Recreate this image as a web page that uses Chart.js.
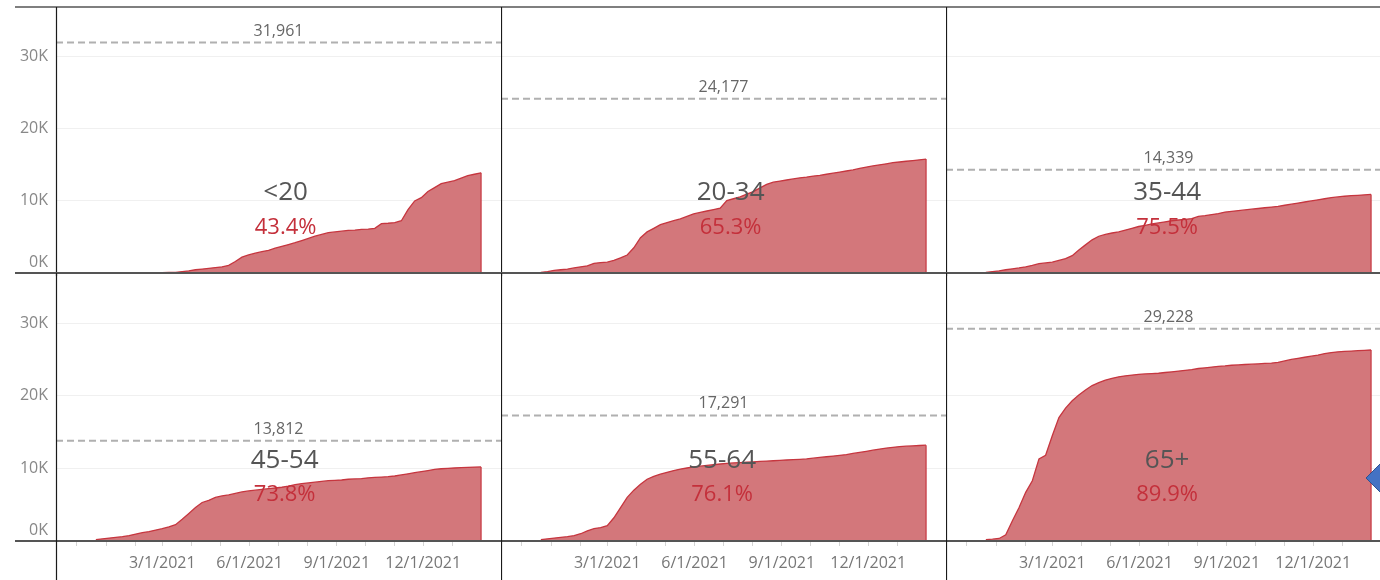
<!DOCTYPE html>
<html lang="en">
<head>
<meta charset="UTF-8">
<title>Doses by age group</title>
<script src="https://cdn.jsdelivr.net/npm/chart.js"></script>
<style>
  html, body { margin: 0; padding: 0; background: #fff; overflow: hidden; }
  #wrap { position: relative; width: 1380px; height: 580px; overflow: hidden; }
  #wrap canvas { position: absolute; }
</style>
</head>
<body>
<div id="wrap">
  <canvas id="c0"></canvas><canvas id="c1"></canvas><canvas id="c2"></canvas>
  <canvas id="c3"></canvas><canvas id="c4"></canvas><canvas id="c5"></canvas>
</div>
<script>
// weekly dates
const weeks = [
  '2020-12-21','2020-12-28','2021-01-04','2021-01-11','2021-01-18','2021-01-25','2021-02-01','2021-02-08','2021-02-15','2021-02-22',
  '2021-03-01','2021-03-08','2021-03-15','2021-03-22','2021-03-29','2021-04-05','2021-04-12','2021-04-19','2021-04-26','2021-05-03',
  '2021-05-10','2021-05-17','2021-05-24','2021-05-31','2021-06-07','2021-06-14','2021-06-21','2021-06-28','2021-07-05','2021-07-12',
  '2021-07-19','2021-07-26','2021-08-02','2021-08-09','2021-08-16','2021-08-23','2021-08-30','2021-09-06','2021-09-13','2021-09-20',
  '2021-09-27','2021-10-04','2021-10-11','2021-10-18','2021-10-25','2021-11-01','2021-11-08','2021-11-15','2021-11-22','2021-11-29',
  '2021-12-06','2021-12-13','2021-12-20','2021-12-27','2022-01-03','2022-01-10','2022-01-17','2022-01-24','2022-01-31'
];

const groups = ['<20', '20-34', '35-44', '45-54', '55-64', '65+'];
const targets = [31961, 24177, 14339, 13812, 17291, 29228];
const pctLabels = ['43.4%', '65.3%', '75.5%', '73.8%', '76.1%', '89.9%'];

// cumulative values, thousands
const under20 = [
  0.00,0.01,0.01,0.02,0.02,0.03,0.03,0.04,0.04,0.05,
  0.05,0.08,0.10,0.20,0.30,0.45,0.55,0.65,0.75,0.85,
  1.05,1.60,2.20,2.50,2.75,2.95,3.15,3.45,3.70,3.95,
  4.20,4.50,4.80,5.10,5.35,5.60,5.70,5.80,5.90,5.95,
  6.05,6.10,6.20,6.85,6.90,7.00,7.25,8.80,10.00,10.45,
  11.30,11.85,12.40,12.60,12.80,13.15,13.50,13.70,13.90
];
const age20to34 = [
  0.10,0.20,0.35,0.45,0.55,0.70,0.85,1.00,1.35,1.45,
  1.50,1.75,2.10,2.50,3.50,4.90,5.70,6.20,6.70,7.00,
  7.25,7.50,7.85,8.20,8.40,8.60,8.80,9.00,10.05,10.30,
  10.55,10.95,11.30,11.80,12.30,12.60,12.75,12.90,13.05,13.20,
  13.30,13.45,13.55,13.70,13.85,14.00,14.15,14.30,14.50,14.70,
  14.85,15.00,15.15,15.30,15.40,15.50,15.60,15.70,15.80
];
const age35to44 = [
  0.10,0.20,0.30,0.45,0.58,0.70,0.85,1.05,1.30,1.40,
  1.50,1.75,2.00,2.40,3.20,3.90,4.60,5.10,5.35,5.55,
  5.70,5.95,6.20,6.45,6.60,6.80,6.95,7.10,7.25,7.35,
  7.45,7.55,7.85,7.95,8.10,8.25,8.45,8.55,8.65,8.75,
  8.85,8.95,9.05,9.15,9.25,9.40,9.55,9.70,9.85,10.00,
  10.15,10.30,10.45,10.55,10.65,10.72,10.78,10.84,10.90
];
const age45to54 = [
  0.20,0.30,0.40,0.50,0.60,0.75,0.95,1.15,1.30,1.50,
  1.70,1.95,2.25,3.00,3.80,4.60,5.30,5.60,6.00,6.20,
  6.35,6.55,6.75,6.90,7.00,7.10,7.20,7.30,7.40,7.55,
  7.75,7.90,8.00,8.10,8.20,8.30,8.35,8.40,8.50,8.55,
  8.60,8.70,8.75,8.80,8.85,8.95,9.10,9.25,9.40,9.55,
  9.70,9.85,9.95,10.00,10.05,10.10,10.15,10.18,10.20
];
const age55to64 = [
  0.20,0.30,0.40,0.50,0.60,0.75,1.00,1.40,1.70,1.85,
  2.10,3.20,4.60,6.00,7.00,7.80,8.50,8.90,9.20,9.45,
  9.70,9.90,10.05,10.20,10.30,10.40,10.50,10.60,10.70,10.75,
  10.80,10.85,10.90,10.95,11.00,11.05,11.10,11.15,11.20,11.25,
  11.30,11.40,11.50,11.60,11.70,11.80,11.90,12.05,12.20,12.35,
  12.50,12.65,12.80,12.90,13.00,13.05,13.10,13.15,13.20
];
const age65plus = [
  0.20,0.25,0.35,0.85,2.80,4.60,6.70,8.30,11.30,11.80,
  14.50,17.00,18.30,19.30,20.10,20.80,21.40,21.80,22.15,22.40,
  22.60,22.75,22.85,22.95,23.00,23.05,23.10,23.20,23.30,23.40,
  23.50,23.60,23.75,23.85,23.95,24.05,24.10,24.20,24.25,24.30,
  24.35,24.40,24.45,24.50,24.60,24.80,25.00,25.15,25.30,25.45,
  25.60,25.80,25.95,26.05,26.10,26.15,26.20,26.25,26.30
];
const series = [under20, age20to34, age35to44, age45to54, age55to64, age65plus];

const yTicks = [0, 10, 20, 30];
const yTickLabels = ['0K', '10K', '20K', '30K'];
const monthTicks = ['2020-12-01','2021-01-01','2021-02-01','2021-03-01','2021-04-01','2021-05-01','2021-06-01',
                    '2021-07-01','2021-08-01','2021-09-01','2021-10-01','2021-11-01','2021-12-01','2022-01-01'];
const xTickLabels = ['', '', '', '3/1/2021', '', '', '6/1/2021', '', '', '9/1/2021', '', '', '12/1/2021', ''];

// where the group name sits in each pane
const labelDates = ['2021-07-09', '2021-07-09', '2021-06-30', '2021-07-08', '2021-06-30', '2021-06-30'];

const dayNum = s => Date.parse(s + 'T00:00:00Z') / 864e5;
const xMin = dayNum('2020-11-09');
const xMax = dayNum('2022-02-21');
const FONT = '"Open Sans", "Noto Sans", sans-serif';

function line(ctx, x1, y1, x2, y2) {
  ctx.beginPath(); ctx.moveTo(x1, y1); ctx.lineTo(x2, y2); ctx.stroke();
}

function makeChart(i) {
  const row = Math.floor(i / 3), col = i % 3;
  const canvas = document.getElementById('c' + i);
  canvas.width = col === 0 ? 501 : 445;
  canvas.height = row === 0 ? 276 : 310;
  canvas.style.left = [0, 501, 946][col] + 'px';
  canvas.style.top = (row === 0 ? 0 : 270) + 'px';

  const values = series[i];
  const target = targets[i] / 1000;

  const decor = {
    id: 'decor',
    afterDatasetsDraw(chart) {
      const { ctx, chartArea: a } = chart;
      const xs = chart.scales.x, ys = chart.scales.y;
      ctx.save();
      // closing edge of the area
      const last = values.length - 1;
      const lx = xs.getPixelForValue(dayNum(weeks[last]));
      ctx.strokeStyle = '#c6363f'; ctx.lineWidth = 1.2;
      line(ctx, lx, ys.getPixelForValue(values[last]), lx, a.bottom);

      // reference value label
      ctx.fillStyle = '#666';
      ctx.font = '16px ' + FONT;
      ctx.textAlign = 'center';
      ctx.textBaseline = 'alphabetic';
      ctx.fillText(targets[i].toLocaleString('en-US'), (a.left + a.right) / 2, ys.getPixelForValue(target) - 7);

      // group name and share
      const cx = xs.getPixelForValue(dayNum(labelDates[i]));
      ctx.fillStyle = '#555';
      ctx.font = '26px ' + FONT;
      ctx.fillText(groups[i], cx, ys.getPixelForValue(10.1));
      ctx.fillStyle = '#c4303b';
      ctx.font = '22px ' + FONT;
      ctx.fillText(pctLabels[i], cx, ys.getPixelForValue(5.45));
      ctx.restore();
    },
    afterDraw(chart) {
      const { ctx, chartArea: a, width, height } = chart;
      const ys = chart.scales.y;
      const x0 = col === 0 ? 15 : 0;
      ctx.save();
      ctx.strokeStyle = '#555';
      ctx.lineWidth = row === 0 ? 1.5 : 2;
      line(ctx, x0, a.top, width, a.top);
      ctx.lineWidth = 2;
      line(ctx, x0, a.bottom, width, a.bottom);
      ctx.strokeStyle = '#1a1a1a';
      ctx.lineWidth = 1.2;
      line(ctx, a.left + 0.5, a.top, a.left + 0.5, height);

      if (col === 0) {
        ctx.fillStyle = '#888';
        ctx.font = '16px ' + FONT;
        ctx.textAlign = 'right';
        ctx.textBaseline = 'middle';
        yTicks.forEach((v, k) => {
          let y = ys.getPixelForValue(v);
          if (v === 0) y -= 11;
          ctx.fillText(yTickLabels[k], a.left - 8, y);
        });
      }
      if (i === 5) {
        // blue pointer at right edge
        const px = a.right - 25, py = a.bottom - 63, s = 16;
        ctx.fillStyle = '#4472c4';
        ctx.strokeStyle = '#2f528f';
        ctx.lineWidth = 1;
        ctx.beginPath();
        ctx.moveTo(px, py); ctx.lineTo(px + s, py - s); ctx.lineTo(px + 2 * s, py); ctx.lineTo(px + s, py + s);
        ctx.closePath(); ctx.fill(); ctx.stroke();
      }
      ctx.restore();
    }
  };

  return new Chart(canvas, {
    type: 'line',
    data: {
      datasets: [{
        data: weeks.map((d, k) => ({ x: dayNum(d), y: values[k] })),
        borderColor: '#c6363f',
        borderWidth: 1.3,
        backgroundColor: '#d3777b',
        fill: 'origin',
        pointRadius: 0,
        tension: 0
      }, {
        data: [{ x: xMin, y: target }, { x: xMax, y: target }],
        borderColor: '#b0b0b0',
        borderWidth: 2,
        borderDash: [7, 4],
        fill: false,
        pointRadius: 0
      }]
    },
    options: {
      responsive: false,
      animation: false,
      layout: { padding: { top: row === 0 ? 7 : 3, bottom: row === 0 ? 3 : 0, left: 0, right: 0 } },
      plugins: { legend: { display: false }, tooltip: { enabled: false } },
      scales: {
        x: {
          type: 'linear',
          min: xMin,
          max: xMax,
          display: row === 1,
          afterBuildTicks: s => { s.ticks = monthTicks.map(d => ({ value: dayNum(d) })); },
          afterFit: s => { s.height = row === 1 ? 39 : 0; },
          border: { display: false },
          grid: { drawOnChartArea: false, drawTicks: true, tickLength: 5, color: '#d4d4d4' },
          ticks: {
            autoSkip: false, maxRotation: 0, padding: 8,
            color: '#777', font: { family: FONT, size: 16 },
            callback: (v, k) => xTickLabels[k]
          }
        },
        y: {
          min: 0,
          max: 36.9,
          z: 1,
          afterBuildTicks: s => { s.ticks = yTicks.map(v => ({ value: v })); },
          afterFit: s => { s.width = col === 0 ? 56 : 0; },
          border: { display: false },
          grid: {
            drawTicks: false,
            color: c => c.tick.value === 0 ? 'rgba(0,0,0,0)' : 'rgba(226,226,226,0.5)'
          },
          ticks: { display: false }
        }
      }
    },
    plugins: [decor]
  });
}

for (let i = 0; i < 6; i++) makeChart(i);
</script>
</body>
</html>
